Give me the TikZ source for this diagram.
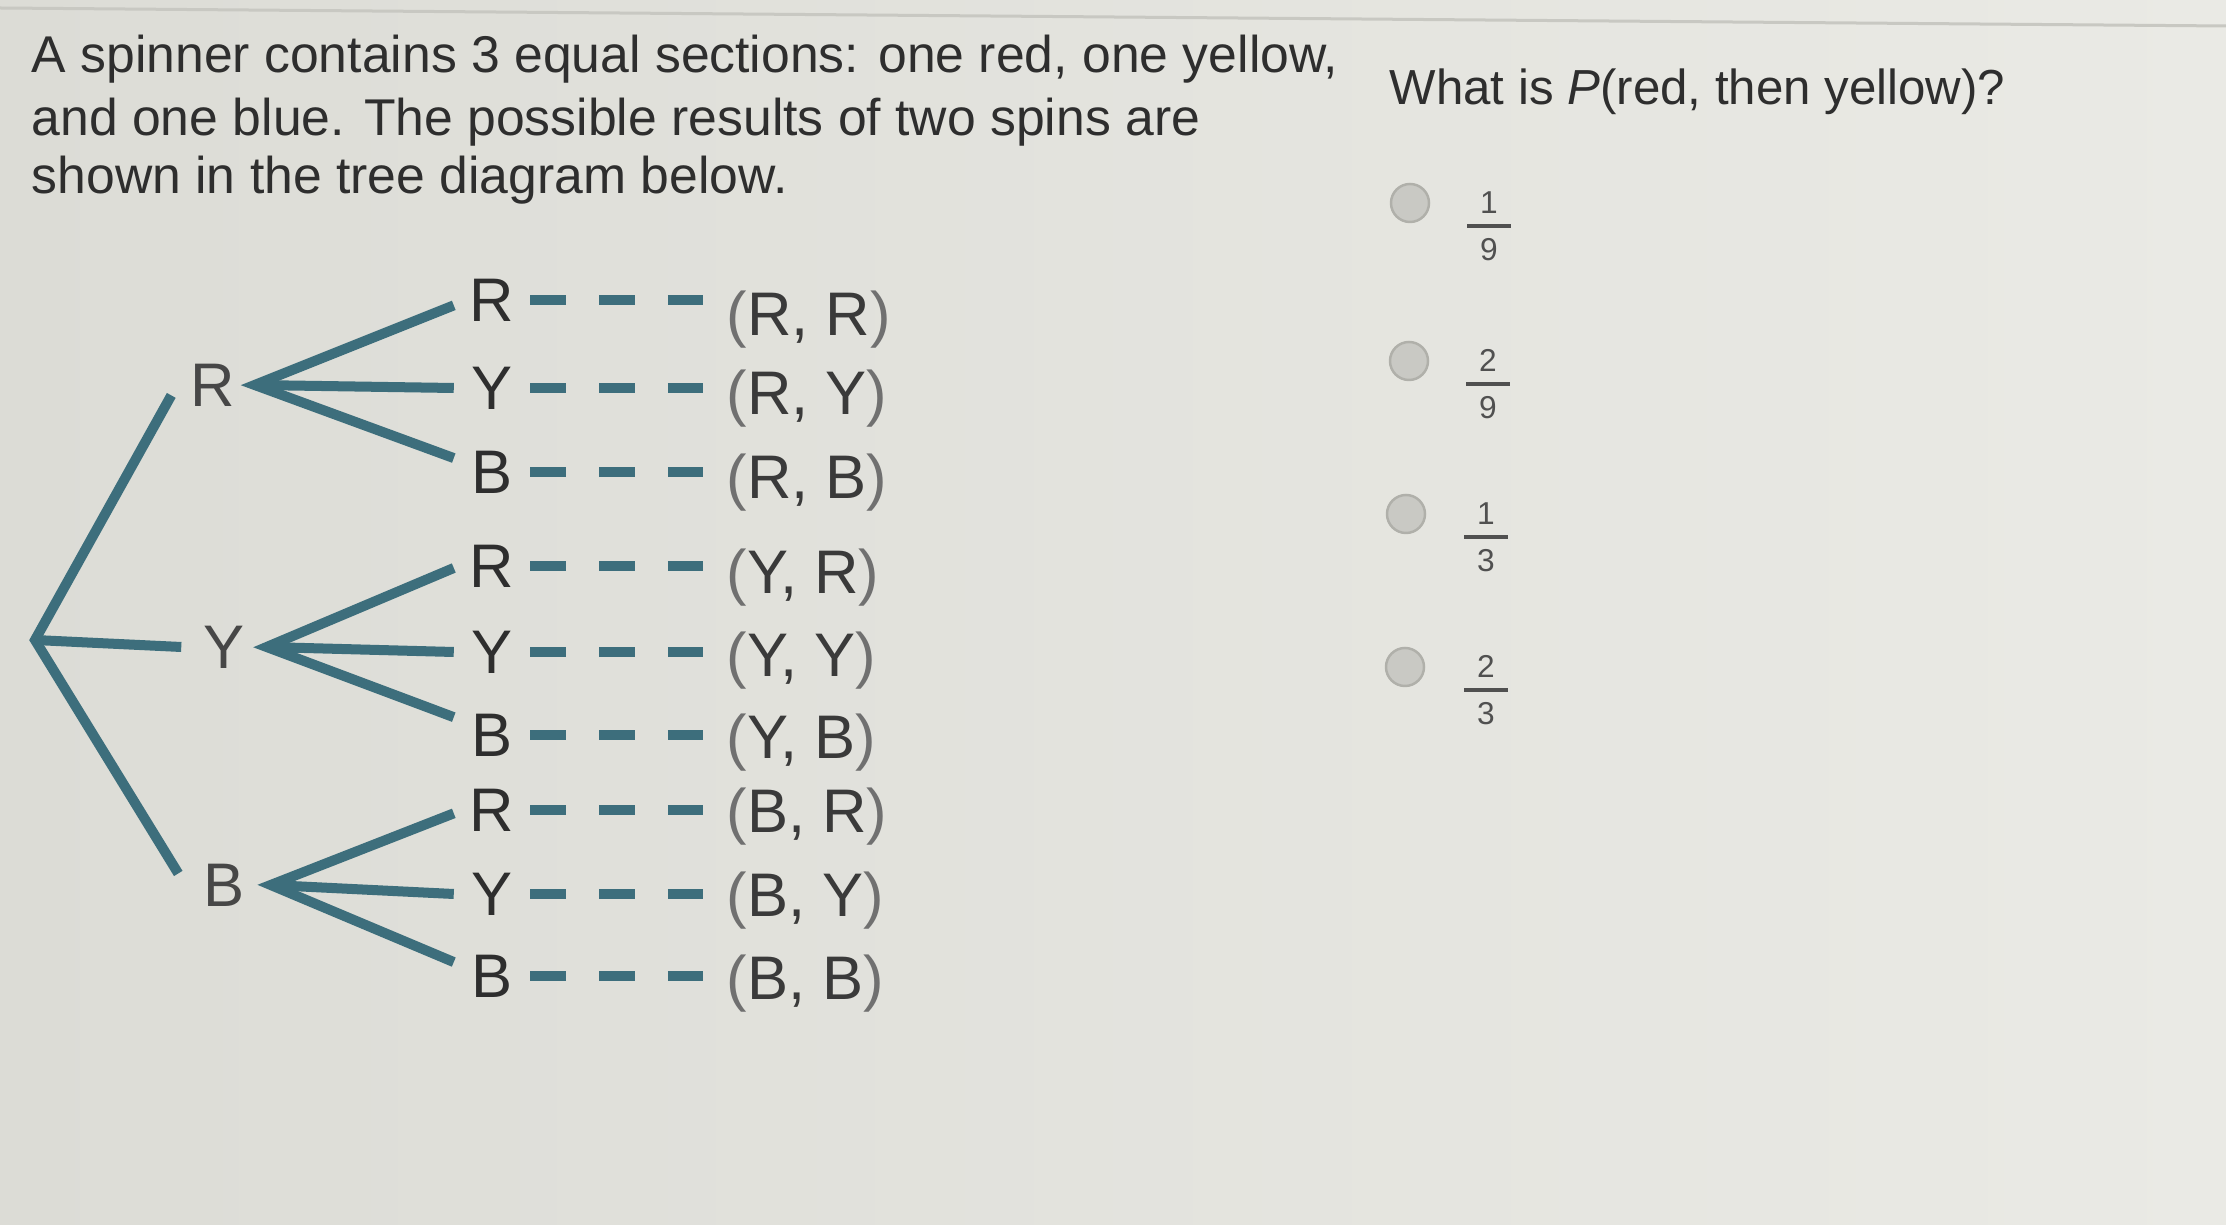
\documentclass[tikz,border=0pt]{standalone}
\usepackage{fontspec}
\setmainfont{Liberation Sans}
\usetikzlibrary{calc}
\definecolor{bgA}{HTML}{DCDCD6}
\definecolor{bgB}{HTML}{EAEAE5}
\definecolor{branch}{HTML}{3D6E7C}
\definecolor{ink}{HTML}{2E2E2E}
\definecolor{firstink}{HTML}{474747}
\definecolor{outink}{HTML}{3A3A3A}
\definecolor{parink}{HTML}{707070}
\definecolor{radiofill}{HTML}{C9C9C4}
\definecolor{radioedge}{HTML}{B0B0AA}
\definecolor{fracink}{HTML}{505050}
\definecolor{edgeline}{HTML}{C8C8C2}
\newcommand\paren[1]{\textcolor{parink}{(}#1\textcolor{parink}{)}}
\newcommand\optfrac[2]{$\displaystyle{\hbox to 12.5pt{\hfil#1\hfil}\above 1pt\hbox to 12.5pt{\hfil#2\hfil}}$}
\begin{document}
\begin{tikzpicture}[x=0.01cm,y=-0.01cm,
  para/.style={anchor=base west, inner sep=0, text=ink, font=\fontsize{14.7}{17}\selectfont},
  ques/.style={anchor=base west, inner sep=0, text=ink, font=\fontsize{14}{17}\selectfont},
  first/.style={inner sep=0, text=firstink, font=\fontsize{17.5}{20}\selectfont, minimum height=0.44cm},
  leaf/.style={inner sep=0, text=ink, font=\fontsize{17.5}{20}\selectfont, minimum height=0.44cm, minimum width=0.75cm},
  outcome/.style={anchor=base west, inner sep=0, inner xsep=0.23cm, text=outink, font=\fontsize{17.5}{20}\selectfont},
  branchline/.style={draw=branch, line width=0.1cm, line join=miter},
  dashline/.style={draw=branch, line width=0.095cm, dash pattern=on 0.36cm off 0.3275cm},
  radio/.style={circle, fill=radiofill, draw=radioedge, line width=0.7pt, minimum size=0.38cm, inner sep=0},
  fracnode/.style={inner sep=0, text=fracink, font=\fontsize{9}{11}\selectfont}
]
\shade[left color=bgA, right color=bgB] (0,0) rectangle (2226,1225);
\useasboundingbox (0,0) rectangle (2226,1225);
\draw[edgeline, line width=0.03cm] (0,8) -- (2226,26);

% question text
\node[para] (p1) at (31,73) {A spinner contains 3 equal sections: one red, one yellow,};
\node[para] (p2) at (31,136) {and one blue. The possible results of two spins are};
\node[para] (p3) at (31,194) {shown in the tree diagram below.};
\node[ques] (q) at (1389,105) {What is \textit{P}(red, then yellow)?};

% answer options
\node[radio] (c1) at (1410,203) {};
\node[radio] (c2) at (1409,361) {};
\node[radio] (c3) at (1406,514) {};
\node[radio] (c4) at (1405,667) {};
\node[fracnode] (f1) at (1489,226) {\optfrac{1}{9}};
\node[fracnode] (f2) at (1488,384) {\optfrac{2}{9}};
\node[fracnode] (f3) at (1486,537) {\optfrac{1}{3}};
\node[fracnode] (f4) at (1486,690) {\optfrac{2}{3}};

% tree
\coordinate (root) at (35,640);
\node[first, minimum width=0.82cm] (R1) at (213,385) {R};
\node[first, minimum width=0.84cm] (Y1) at (224,647) {Y};
\node[first, minimum width=0.91cm] (B1) at (224.5,885) {B};

\node[leaf] (RR) at (492,300) {R};
\node[leaf] (RY) at (492,388) {Y};
\node[leaf] (RB) at (492,472) {B};
\node[leaf] (YR) at (492,566) {R};
\node[leaf] (YY) at (492,652) {Y};
\node[leaf] (YB) at (492,735) {B};
\node[leaf] (BR) at (492,810) {R};
\node[leaf] (BY) at (492,894) {Y};
\node[leaf] (BB) at (492,976) {B};

\node[outcome] (oRR) at (703,336) {\paren{R, R}};
\node[outcome] (oRY) at (703,415) {\paren{R, Y}};
\node[outcome] (oRB) at (703,499) {\paren{R, B}};
\node[outcome] (oYR) at (703,594) {\paren{Y, R}};
\node[outcome] (oYY) at (703,677) {\paren{Y, Y}};
\node[outcome] (oYB) at (703,759) {\paren{Y, B}};
\node[outcome] (oBR) at (703,833) {\paren{B, R}};
\node[outcome] (oBY) at (703,917) {\paren{B, Y}};
\node[outcome] (oBB) at (703,1000) {\paren{B, B}};

\draw[branchline] (R1.194) -- (root) -- (B1.166);
\draw[branchline] (root) -- (Y1.west);

\draw[branchline] (RR.188) -- (R1.east) -- (RB.160);
\draw[branchline] (R1.east) -- (RY.west);
\draw[branchline] (YR.183) -- (Y1.east) -- (YB.155);
\draw[branchline] (Y1.east) -- (YY.west);
\draw[branchline] (BR.185) -- (B1.east) -- (BB.160);
\draw[branchline] (B1.east) -- (BY.west);

\foreach \l in {RR,RY,RB,YR,YY,YB,BR,BY,BB}
  \draw[dashline] (\l.east) -- (\l.east -| o\l.west);
\end{tikzpicture}
\end{document}
